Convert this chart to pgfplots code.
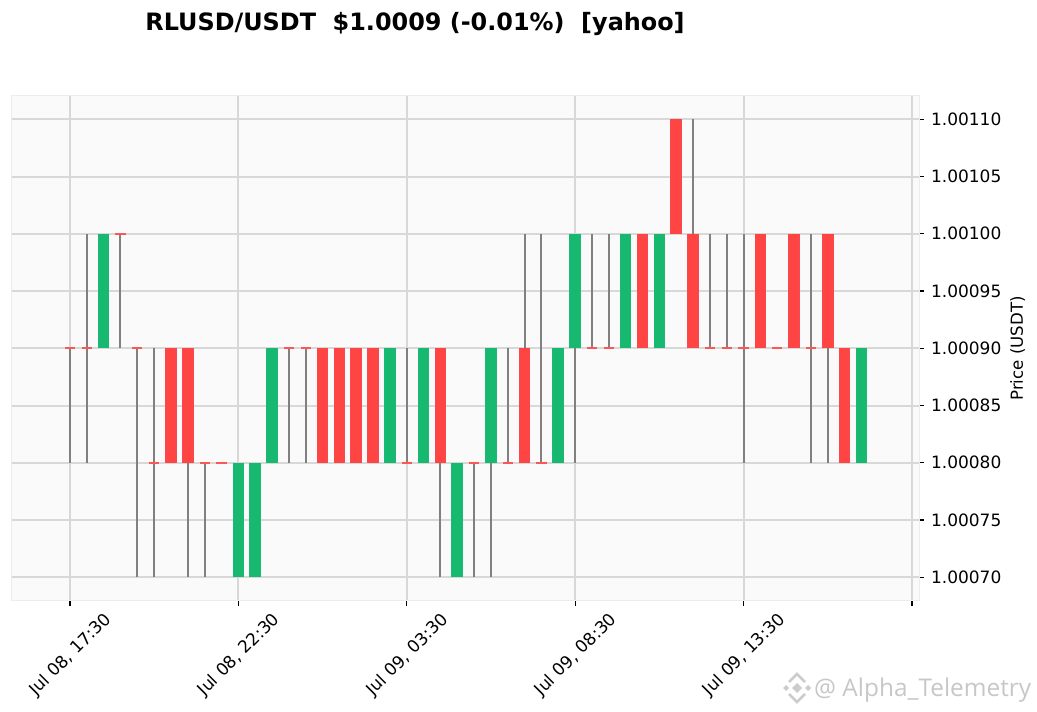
\documentclass[border=0pt]{standalone}
\usepackage{fontspec}
\setmainfont{DejaVu Sans}
\newfontfamily\markfont{Open Sans}
\usepackage{pgfplots}
\usepackage{pgfplotstable}
\pgfplotsset{compat=1.18}

\definecolor{upgreen}{HTML}{16B96F}
\definecolor{upedge}{HTML}{1DB876}
\definecolor{downred}{HTML}{FF4444}
\definecolor{downedge}{HTML}{F9484E}
\definecolor{dashred}{HTML}{FF5555}
\definecolor{wickgrey}{HTML}{808080}
\definecolor{gridgrey}{HTML}{D8D8D8}

% candle index, wick low, wick high
\pgfplotstableread{
i lo hi
0 1.0008 1.0009
1 1.0008 1.0010
3 1.0009 1.0010
4 1.0007 1.0009
5 1.0007 1.0009
7 1.0007 1.0008
8 1.0007 1.0008
13 1.0008 1.0009
14 1.0008 1.0009
20 1.0008 1.0009
22 1.0007 1.0008
24 1.0007 1.0008
25 1.0007 1.0008
26 1.0008 1.0009
27 1.0009 1.0010
28 1.0008 1.0010
30 1.0008 1.0009
31 1.0009 1.0010
32 1.0009 1.0010
37 1.0010 1.0011
38 1.0009 1.0010
39 1.0009 1.0010
40 1.0008 1.0010
44 1.0008 1.0010
45 1.0008 1.0009
}\wicks

% green bodies
\pgfplotstableread{
i lo hi
2 1.0009 1.0010
10 1.0007 1.0008
11 1.0007 1.0008
12 1.0008 1.0009
19 1.0008 1.0009
21 1.0008 1.0009
23 1.0007 1.0008
25 1.0008 1.0009
29 1.0008 1.0009
30 1.0009 1.0010
33 1.0009 1.0010
35 1.0009 1.0010
47 1.0008 1.0009
}\upbars

% red bodies
\pgfplotstableread{
i lo hi
6 1.0008 1.0009
7 1.0008 1.0009
15 1.0008 1.0009
16 1.0008 1.0009
17 1.0008 1.0009
18 1.0008 1.0009
22 1.0008 1.0009
27 1.0008 1.0009
34 1.0009 1.0010
36 1.0010 1.0011
37 1.0009 1.0010
41 1.0009 1.0010
43 1.0009 1.0010
45 1.0009 1.0010
46 1.0008 1.0009
}\downbars

% open = close
\pgfplotstableread{
i y
0 1.0009
1 1.0009
3 1.0010
4 1.0009
5 1.0008
8 1.0008
9 1.0008
13 1.0009
14 1.0009
20 1.0008
24 1.0008
26 1.0008
28 1.0008
31 1.0009
32 1.0009
38 1.0009
39 1.0009
40 1.0009
42 1.0009
44 1.0009
}\flats

\pgfplotsset{
  span/.style 2 args={draw=none, mark=none, forget plot,
    error bars/.cd, y dir=plus, y explicit, error mark=none,
    error bar style={line width=#1, color=#2}},
}
\newcommand{\bodies}[3]{%
  \addplot[span={11.6pt}{#2}] table[x=i, y=lo, y error expr=\thisrow{hi}-\thisrow{lo}] {#1};
  \addplot[span={9.8pt}{#3}] table[x=i, y=lo, y error expr=\thisrow{hi}-\thisrow{lo}] {#1};
}

\begin{document}
\begin{tikzpicture}
  \path[use as bounding box] (-12pt,-111pt) rectangle (1025pt,601pt);
  \begin{axis}[
    name=ax,
    scale only axis,
    width=907pt,
    height=505pt,
    xmin=-3.44, xmax=50.42,
    ymin=1.0006793, ymax=1.00112035,
    axis background/.style={fill=black!2},
    axis line style={draw=black!7, line width=1pt},
    clip=false,
    grid=major,
    grid style={gridgrey, line width=2pt},
    xtick={0,10,20,30,40,50},
    xticklabels={{Jul 08, 17:30},{Jul 08, 22:30},{Jul 09, 03:30},{Jul 09, 08:30},{Jul 09, 13:30},{}},
    ytick={1.0007,1.00075,1.0008,1.00085,1.0009,1.00095,1.001,1.00105,1.0011},
    scaled y ticks=false,
    yticklabel pos=right,
    ylabel={Price (USDT)},
    ylabel style={font=\fontsize{16.6}{20}\selectfont, yshift=-2pt},
    tick align=outside,
    ytick pos=right,
    xtick pos=bottom,
    major tick length=5pt,
    tick style={black, line width=1.2pt},
    every tick label/.append style={font=\fontsize{17}{20}\selectfont},
    x tick label style={rotate=45, anchor=center, xshift=-33.9pt, yshift=-35.3pt},
    yticklabel style={xshift=3.5pt, /pgf/number format/.cd, fixed, fixed zerofill, precision=5, assume math mode=true},
    title={RLUSD/USDT\ \ \$1.0009 (-0.01\%)\ \ [yahoo]},
    title style={font=\bfseries\fontsize{23.9}{28}\selectfont, at={(403pt,571pt)}, anchor=center},
  ]
    \addplot[span={2pt}{wickgrey}] table[x=i, y=lo, y error expr=\thisrow{hi}-\thisrow{lo}] {\wicks};
    \addplot[draw=none, mark=none, forget plot, error bars/.cd, x dir=both, x fixed=0.3, error mark=none,
      error bar style={line width=2pt, color=dashred}] table[x=i, y=y] {\flats};
    \bodies{\upbars}{upedge}{upgreen}
    \bodies{\downbars}{downedge}{downred}
  \end{axis}
  % watermark
  \begin{scope}[shift={(785pt,-87pt)}, black!20]
    \fill (0,-5pt) -- (5pt,0) -- (0,5pt) -- (-5pt,0) -- cycle;
    \fill (-11pt,-3pt) -- (-8pt,0) -- (-11pt,3pt) -- (-14pt,0) -- cycle;
    \fill (11pt,-3pt) -- (14pt,0) -- (11pt,3pt) -- (8pt,0) -- cycle;
    \draw[line width=2.5pt] (-8pt,6pt) -- (0,14pt) -- (8pt,6pt);
    \draw[line width=2.5pt] (-8pt,-6pt) -- (0,-14pt) -- (8pt,-6pt);
  \end{scope}
  \node[anchor=west, inner sep=0pt, text=black!22, font=\markfont\fontsize{24.4}{28}\selectfont] at (802pt,-89pt) {@ Alpha\_Telemetry};
\end{tikzpicture}
\end{document}
